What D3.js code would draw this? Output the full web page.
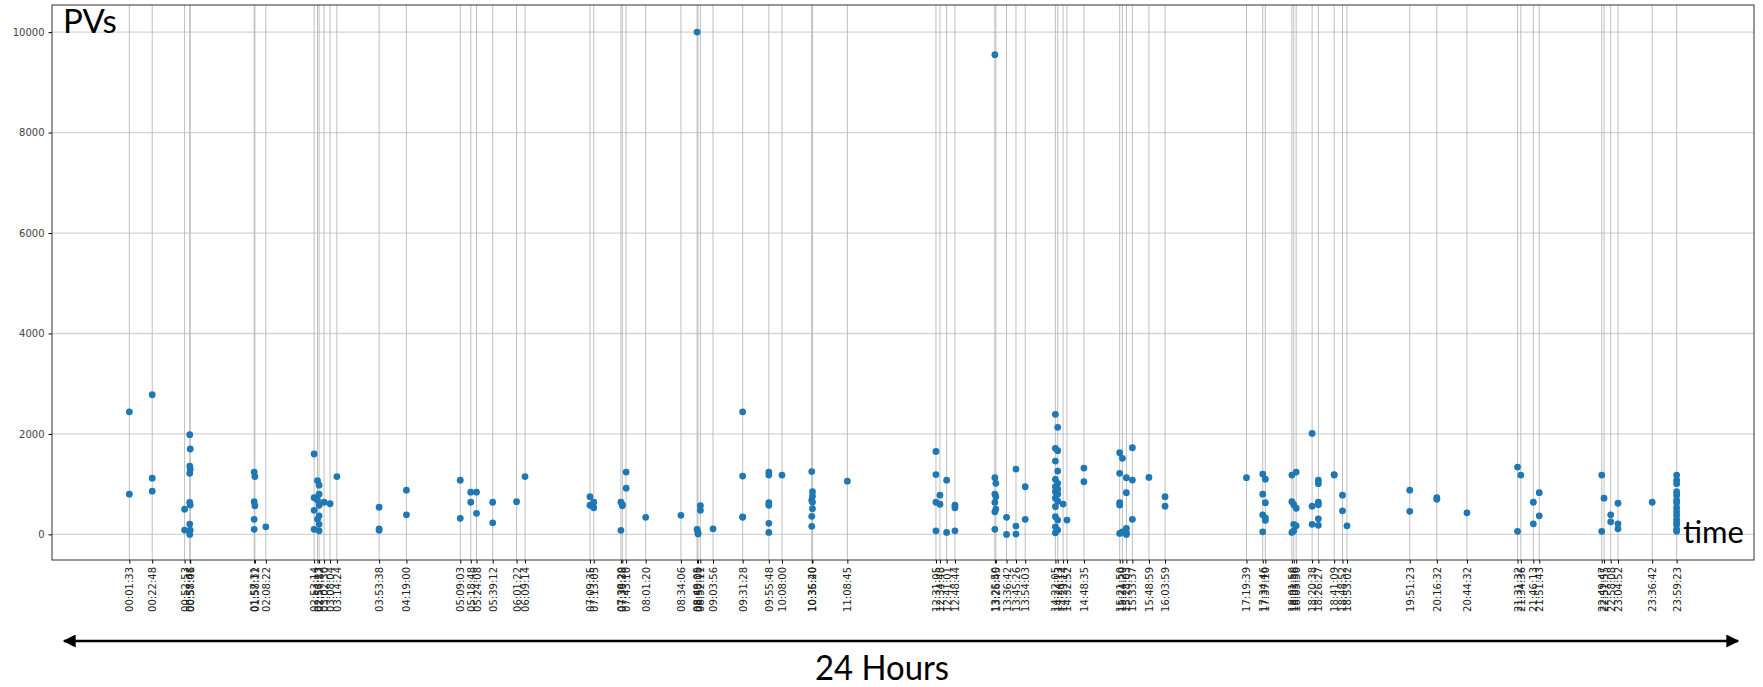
<!DOCTYPE html>
<html>
<head>
<meta charset="utf-8">
<script src="https://cdn.jsdelivr.net/npm/d3@7"></script>
<style>
  body { margin: 0; background: #fff; }
  svg { display: block; }
  .tick text { font-family: "DejaVu Sans", sans-serif; font-size: 10px; fill: #222; }
  .big { font-family: Lato, "Open Sans", sans-serif; fill: #000; }
</style>
</head>
<body>
<svg id="chart" width="1763" height="687"></svg>
<script>
// time of each visit slot, and the PVs recorded at that slot
var slotTimes = [
  "00:01:33", "00:22:48", "00:52:53", "00:57:41", "00:58:06",
  "01:57:31", "01:58:12", "02:08:22",
  "02:53:14", "02:56:23", "02:57:52", "03:02:30", "03:08:04", "03:14:24",
  "03:53:38", "04:19:00", "05:09:03", "05:18:48", "05:24:08", "05:39:12",
  "06:01:22", "06:09:14", "07:09:35", "07:13:05", "07:38:20", "07:39:38", "07:43:10",
  "08:01:20", "08:34:06", "08:49:05", "08:50:00", "08:52:11", "09:03:56",
  "09:31:28", "09:55:48", "10:08:00", "10:35:40", "10:36:20", "11:08:45",
  "12:31:05", "12:34:48", "12:41:01", "12:48:44",
  "13:25:50", "13:26:45", "13:36:42", "13:45:26", "13:54:03",
  "14:22:05", "14:24:13", "14:29:14", "14:32:52", "14:48:35",
  "15:21:50", "15:24:20", "15:28:03", "15:33:37", "15:48:59", "16:03:59",
  "17:19:39", "17:34:46", "17:37:10", "18:01:50", "18:03:36", "18:05:50",
  "18:20:38", "18:26:27", "18:41:09", "18:48:52", "18:53:02",
  "19:51:23", "20:16:32", "20:44:32", "21:31:32", "21:34:36", "21:46:13", "21:51:43",
  "22:49:47", "22:51:55", "22:58:08", "23:04:52", "23:36:42", "23:59:23"
];

var slotPVs = [
  [2440, 800], [2780, 1120, 860], [500, 86], [1985, 1360, 1215, 637, 205, 0], [1700, 1295, 584, 86],
  [1240, 650, 300, 100], [1150, 570], [150],
  [1600, 730, 480, 100], [1070, 680, 300], [980, 800, 580, 370, 200, 70], [640], [610], [1150],
  [540, 110, 80], [880, 390], [1080, 320], [840, 640], [840, 420], [640, 230],
  [650], [1150], [750, 580], [640, 530], [640, 80], [590, 570], [1240, 920],
  [340], [380], [10000, 100], [40, 10], [570, 480], [110],
  [2440, 1160, 350, 340], [1240, 1180, 630, 580, 220, 40], [1180], [1250, 680, 360, 160], [850, 760, 640, 510], [1060],
  [1650, 1190, 640, 70], [780, 600], [1080, 40], [580, 530, 70],
  [9550, 1128, 803, 637, 450, 100], [1016, 749, 504], [339, 0], [1300, 165, 6], [948, 299],
  [2390, 1713, 1460, 1096, 948, 850, 720, 550, 351, 151, 32], [2131, 1665, 1261, 1016, 900, 800, 660, 285, 86], [604], [285], [1321, 1048],
  [1625, 1215, 630, 584, 20], [1514, 50], [1128, 829, 120, 30, 0], [1725, 1082, 299], [1135], [750, 560],
  [1130], [1200, 800, 390, 50], [1100, 630, 330, 280], [1180, 650, 40], [590, 200, 70], [1240, 520, 170],
  [2010, 560, 200], [1080, 1010, 640, 590, 310, 180], [1190, 1180], [780, 470], [170],
  [880, 460], [730, 700], [430], [1340, 60], [1180], [640, 210], [830, 370],
  [1180, 60], [720], [390, 250], [620, 210, 110], [640],
  [1180, 1080, 1010, 850, 780, 680, 630, 530, 450, 380, 300, 240, 190, 100, 60]
];

var yTicks = [0, 2000, 4000, 6000, 8000, 10000];
var yDomain = [-510, 10540];

function toSec(t) {
  var p = t.split(":").map(Number);
  return p[0] * 3600 + p[1] * 60 + p[2];
}

var svg = d3.select("#chart");
var m = {left: 52, right: 1754, top: 5, bottom: 560};

var secs = slotTimes.map(toSec);
var tMin = d3.min(secs), tMax = d3.max(secs), pad = (tMax - tMin) * 0.05;

var x = d3.scaleLinear().domain([tMin - pad, tMax + pad]).range([m.left, m.right]);
var y = d3.scaleLinear().domain(yDomain).range([m.bottom, m.top]);

var points = [];
slotTimes.forEach(function (t, i) {
  slotPVs[i].forEach(function (v) { points.push({t: secs[i], v: v}); });
});

svg.append("rect").attr("width", 1763).attr("height", 687).attr("fill", "#fff");

// grid
svg.append("g").selectAll("line").data(yTicks).enter().append("line")
  .attr("x1", m.left).attr("x2", m.right)
  .attr("y1", function (d) { return y(d); }).attr("y2", function (d) { return y(d); })
  .attr("stroke", "#d4d4d4").attr("stroke-width", 1.3);

svg.append("g").selectAll("line").data(secs).enter().append("line")
  .attr("x1", function (d) { return x(d); }).attr("x2", function (d) { return x(d); })
  .attr("y1", m.top).attr("y2", m.bottom)
  .attr("stroke", "#b8b8b8").attr("stroke-width", 0.9);

// axes
var yAxis = svg.append("g").attr("transform", "translate(" + m.left + ",0)")
  .call(d3.axisLeft(y).tickValues(yTicks).tickFormat(d3.format("d")).tickSize(3.5).tickPadding(4));
yAxis.select(".domain").remove();
yAxis.selectAll("text").style("fill", "#444");

var xAxis = svg.append("g").attr("transform", "translate(0," + m.bottom + ")")
  .call(d3.axisBottom(x).tickValues(secs).tickFormat(function (d, i) { return slotTimes[i]; }).tickSize(3.5));
xAxis.select(".domain").remove();
xAxis.selectAll("text")
  .attr("transform", "rotate(-90)")
  .attr("text-anchor", "end")
  .attr("x", -7).attr("y", 0).attr("dy", "0.35em");

// points
svg.append("g").selectAll("circle").data(points).enter().append("circle")
  .attr("cx", function (d) { return x(d.t); })
  .attr("cy", function (d) { return y(d.v); })
  .attr("r", 3.4)
  .attr("fill", "#1f77b4");

// frame
svg.append("rect").attr("x", m.left).attr("y", m.top)
  .attr("width", m.right - m.left).attr("height", m.bottom - m.top)
  .attr("fill", "none").attr("stroke", "#333").attr("stroke-width", 1);

// annotations
svg.append("text").attr("class", "big").attr("x", 63).attr("y", 33)
  .attr("font-size", 33).text("PVs");
svg.append("text").attr("class", "big").attr("x", 1683).attr("y", 543)
  .attr("font-size", 31).text("time");

var defs = svg.append("defs");
defs.append("marker").attr("id", "head").attr("viewBox", "0 0 10 10")
  .attr("refX", 9).attr("refY", 5).attr("markerWidth", 6).attr("markerHeight", 5)
  .attr("markerUnits", "strokeWidth").attr("orient", "auto-start-reverse")
  .append("path").attr("d", "M0,0L10,5L0,10z").attr("fill", "#000");

svg.append("line").attr("x1", 64).attr("x2", 1738).attr("y1", 641).attr("y2", 641)
  .attr("stroke", "#000").attr("stroke-width", 2.6)
  .attr("marker-start", "url(#head)").attr("marker-end", "url(#head)");

svg.append("text").attr("class", "big").attr("x", 882).attr("y", 680)
  .attr("text-anchor", "middle").attr("font-size", 34)
  .attr("textLength", 134).attr("lengthAdjust", "spacingAndGlyphs").text("24 Hours");
</script>
</body>
</html>
